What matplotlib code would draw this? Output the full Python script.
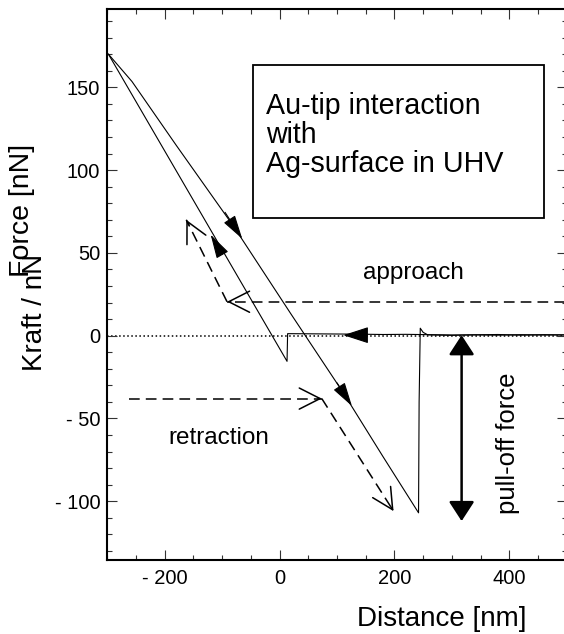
import matplotlib
matplotlib.use('Agg')
import matplotlib.pyplot as plt
from matplotlib.ticker import MultipleLocator
from matplotlib.patches import Rectangle

plt.rcParams['font.family'] = ['Liberation Sans', 'DejaVu Sans']

# ---------------- data ----------------
# approach curve: from large distance at zero force, snap-in at ~13 nm, then pressed in
approach_x = [500, 460, 420, 380, 340, 300, 260, 220, 180, 140, 100, 60, 20, 14, 13, -298]
approach_y = [0.4, 0.6, 0.3, 0.7, 0.5, 0.4, 0.6, 0.8, 0.7, 0.9, 1.0, 1.1, 1.2, 1.2, -15.5, 170]
# retraction curve: back out, adhesion to -107 nN, pull-off at ~243 nm
retract_x = [-298, -257, -180, -80, 20, 110, 180, 242, 243, 245, 250, 258, 300, 340, 380, 420, 460, 500]
retract_y = [170, 153.5, 115, 66, 13, -34, -73, -107, -40, 4.5, 2.0, 0.5, 0.2, 0.5, 0.3, 0.6, 0.4, 0.5]

xticks = [-200, 0, 200, 400]
xticklabels = ['- 200', '0', '200', '400']
yticks = [-100, -50, 0, 50, 100, 150]
yticklabels = ['- 100', '- 50', '0', '50', '100', '150']

# ---------------- figure ----------------
fig = plt.figure(figsize=(5.64, 6.34), dpi=100)
ax = fig.add_axes([107.3 / 564, (634 - 560) / 634, (566.7 - 107.3) / 564, 550.5 / 634])
ax.set_xlim(-300, 500)
ax.set_ylim(-135.5, 197)

ax.axhline(0, color='k', lw=1.1, ls=':', zorder=1)
ax.plot(approach_x, approach_y, color='k', lw=0.8, zorder=2)
ax.plot(retract_x, retract_y, color='k', lw=0.8, zorder=2)

def filled_head(tip, base, L, W, lw=0.8):
    ax.annotate('', xy=tip, xytext=base,
                arrowprops=dict(arrowstyle=f'-|>,head_length={L},head_width={W}',
                                mutation_scale=1, shrinkA=0, shrinkB=0,
                                color='k', lw=lw), zorder=4)

def open_head(tip, base, L=15, W=7.6, lw=1.1):
    ax.annotate('', xy=tip, xytext=base,
                arrowprops=dict(arrowstyle=f'->,head_length={L},head_width={W}',
                                mutation_scale=1, shrinkA=0, shrinkB=0,
                                color='k', lw=lw), zorder=4)

# filled arrowheads on the curves
filled_head((-65, 58.5), (-95, 74.5), 15, 4.2)
filled_head((-120, 61), (-100, 49), 15, 4.2)
filled_head((126, -42.5), (100, -28.5), 15, 4.2)
filled_head((111, 0.3), (150, 0.3), 16, 5.2)

# pull-off force double arrow
ax.annotate('', xy=(317, 0.3), xytext=(317, -112),
            arrowprops=dict(arrowstyle='<|-|>,head_length=12,head_width=7.8',
                            mutation_scale=1, shrinkA=0, shrinkB=0,
                            color='k', lw=1.8), zorder=4)

dash = (0, (7, 4))
# approach dashed arrow
ax.plot([500, -91.5], [20.5, 20.5], color='k', lw=1.1, ls=dash, zorder=3)
open_head((-91.5, 20.5), (-85, 20.5))
ax.plot([-91.5, -162.5], [20.5, 70], color='k', lw=1.1, ls=dash, zorder=3)
open_head((-162.5, 70), (-158, 66.9))

# retraction dashed arrow
ax.plot([-263, 73.5], [-38, -38], color='k', lw=1.1, ls=dash, zorder=3)
open_head((73.5, -38), (67, -38))
ax.plot([73.5, 198.5], [-38, -106], color='k', lw=1.1, ls=dash, zorder=3)
open_head((198.5, -106), (194, -103.5))

# text box
ax.add_patch(Rectangle((-45.6, 71.1), 461 + 45.6, 163.3 - 71.1,
                       fill=False, ec='k', lw=1.3, zorder=5))
for txt, yy in [('Au-tip interaction', 134.1), ('with', 116.5), ('Ag-surface in UHV', 98.9)]:
    ax.text(-23.5, yy, txt, fontsize=20.6, ha='left', va='baseline', zorder=6)

ax.text(232.5, 34, 'approach', fontsize=17.5, ha='center', va='baseline')
ax.text(-106.6, -65.2, 'retraction', fontsize=17.5, ha='center', va='baseline')
ax.text(398, -65.2, 'pull-off force', fontsize=18.5, ha='center', va='center', rotation=90)

# ticks
ax.set_xticks(xticks)
ax.set_xticklabels(xticklabels)
ax.set_yticks(yticks)
ax.set_yticklabels(yticklabels)
ax.xaxis.set_minor_locator(MultipleLocator(50))
ax.yaxis.set_minor_locator(MultipleLocator(10))
ax.tick_params(which='both', direction='in', top=True, right=True, width=0.8, color='#333333')
ax.tick_params(which='major', length=7.2, labelsize=14.5)
ax.tick_params(which='minor', length=3.8)
ax.tick_params(axis='x', pad=6.5)
ax.tick_params(axis='y', pad=5)
for s in ax.spines.values():
    s.set_linewidth(1.5)

# axis labels
fig.text(441.7 / 564, (634 - 626) / 634, 'Distance [nm]', fontsize=20, ha='center', va='baseline')
fig.text(22 / 564, (634 - 210) / 634, 'Force [nN]', fontsize=20.5, ha='center', va='center', rotation=90)
fig.text(35 / 564, (634 - 312.5) / 634, 'Kraft / nN', fontsize=20, ha='center', va='center', rotation=90)

fig.savefig('out.png', dpi=100)
